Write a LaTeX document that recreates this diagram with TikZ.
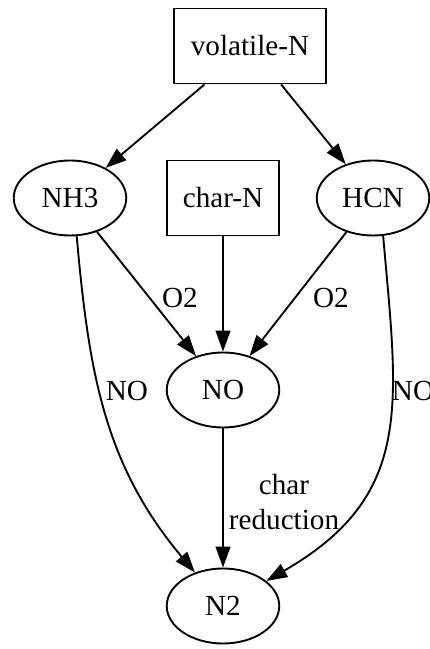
\documentclass[tikz,border=0pt]{standalone}
\usepackage{fontspec}
\setmainfont{Liberation Serif}
\usetikzlibrary{shapes.geometric,arrows.meta}

\tikzset{
	box/.style={draw, rectangle, line width=0.9pt, minimum height=36pt, inner sep=0pt},
	oval/.style={draw, ellipse, line width=0.9pt, minimum width=54pt, minimum height=36pt, inner sep=0pt},
	lbl/.style={inner sep=0pt, align=center},
	flow/.style={line width=0.9pt, -{Triangle[length=10pt,width=7pt]}}
}

\begin{document}
\begin{tikzpicture}[x=0.48pt, y=-0.48pt, font=\fontsize{14}{16.8}\selectfont]
	\useasboundingbox (0,0) rectangle (429,649);
	% nodes
	\node[box, minimum width=73pt] (vol) at (250,46) {volatile-N};
	\node[oval] (nh3) at (70,198) {NH3};
	\node[box, minimum width=54pt] (charn) at (223,198) {char-N};
	\node[oval] (hcn) at (373,198) {HCN};
	\node[oval] (no) at (223,390) {NO};
	\node[oval] (n2) at (223,606) {N2};
	% edge labels
	\node[lbl] (o2a) at (180,298) {O2};
	\node[lbl] (o2b) at (331,298) {O2};
	\node[lbl] (noa) at (127,391) {NO};
	\node[lbl] (nob) at (413,391) {NO};
	\node[lbl] (red) at (284,502) {char\\reduction};
	% edges
	\draw[flow] (vol) -- (nh3);
	\draw[flow] (vol) -- (hcn);
	\draw[flow] (nh3) -- (no);
	\draw[flow] (charn) -- (no);
	\draw[flow] (hcn) -- (no);
	\draw[flow] (nh3.-80) to[out=-85, in=130] (n2);
	\draw[flow] (hcn.-75) to[out=-85, in=30, looseness=1.2] (n2);
	\draw[flow] (no) -- (n2);
\end{tikzpicture}
\end{document}
